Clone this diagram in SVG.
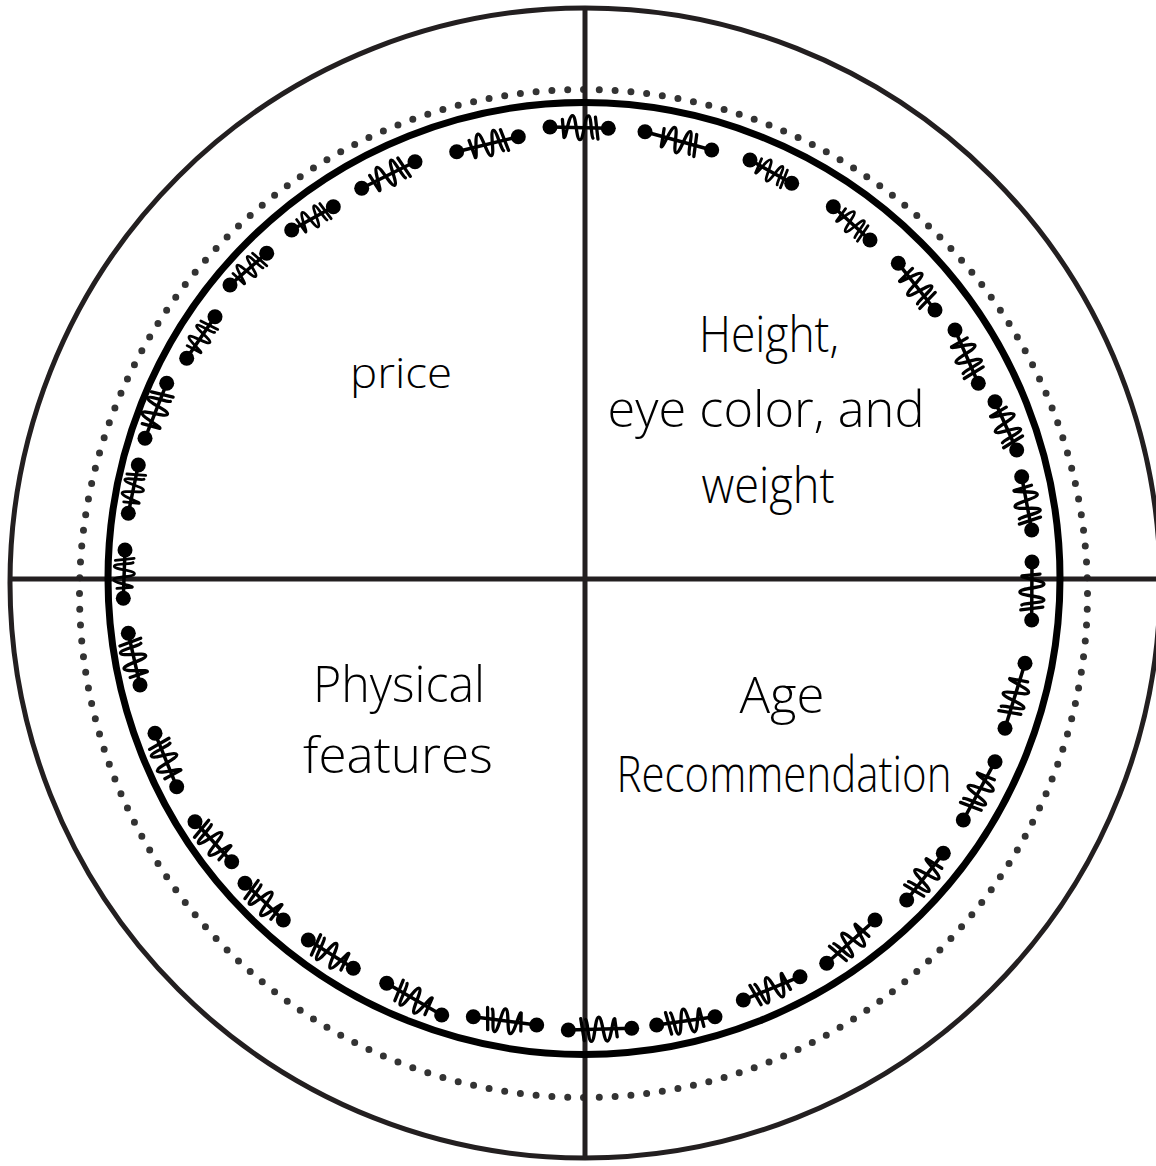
<svg xmlns="http://www.w3.org/2000/svg" xmlns:xlink="http://www.w3.org/1999/xlink" width="1156" height="1166" viewBox="0 0 1156 1166">
<style>
.ring{fill:none}
.st line{stroke:#000;stroke-width:3.5;stroke-linecap:round}
.st circle{fill:#000}
.lbl{font-family:"Open Sans","Noto Sans","Liberation Sans",sans-serif;font-weight:300;fill:#000;text-anchor:middle}
</style>
<defs>
<path id="sq" d="M-17,-8 L-15,10 C-13,12 -11,-12 -7,-12 C-3,-12 -3,12 1,12 C5,12 5,-12 9,-12 C12,-12 12,8 14,10 M16,-11 L19,11" fill="none" stroke="#000" stroke-width="3.3" stroke-linecap="round" stroke-linejoin="round"/>
</defs>
<rect width="1156" height="1166" fill="#fff"/>
<g id="outer-ring"><circle class="ring" cx="585" cy="583" r="575" stroke="#231f20" stroke-width="5"/></g>
<g id="dotted-ring"><circle class="ring" cx="583.5" cy="593.5" r="504" stroke="#333" stroke-width="7" stroke-linecap="round" pathLength="200" stroke-dasharray="0 1"/></g>
<g id="connectors">
<line x1="585" y1="8" x2="585" y2="1160" stroke="#231f20" stroke-width="5"/>
<line x1="10" y1="579" x2="1156" y2="579" stroke="#231f20" stroke-width="5"/>
</g>
<g id="inner-ring"><circle class="ring" cx="584" cy="578.5" r="476" stroke="#000" stroke-width="7"/></g>
<g id="stitches" class="st">
<g><line x1="550" y1="127" x2="608.3" y2="128.3"/><circle cx="550" cy="127" r="7.5"/><circle cx="608.3" cy="128.3" r="7.5"/><use href="#sq" transform="translate(579.2,127.7) rotate(1.3)"/></g>
<g><line x1="645" y1="131.7" x2="711.7" y2="150"/><circle cx="645" cy="131.7" r="7.5"/><circle cx="711.7" cy="150" r="7.5"/><use href="#sq" transform="translate(678.4,140.9) rotate(15.3)"/></g>
<g><line x1="750" y1="160" x2="791.7" y2="183.3"/><circle cx="750" cy="160" r="7.5"/><circle cx="791.7" cy="183.3" r="7.5"/><use href="#sq" transform="translate(770.9,171.7) rotate(29.2) scale(0.85)"/></g>
<g><line x1="833.3" y1="206.7" x2="870" y2="240"/><circle cx="833.3" cy="206.7" r="7.5"/><circle cx="870" cy="240" r="7.5"/><use href="#sq" transform="translate(851.7,223.4) rotate(42.2) scale(0.85)"/></g>
<g><line x1="898.3" y1="263.3" x2="935" y2="310"/><circle cx="898.3" cy="263.3" r="7.5"/><circle cx="935" cy="310" r="7.5"/><use href="#sq" transform="translate(916.7,286.7) rotate(51.8)"/></g>
<g><line x1="955" y1="330" x2="978.3" y2="383.3"/><circle cx="955" cy="330" r="7.5"/><circle cx="978.3" cy="383.3" r="7.5"/><use href="#sq" transform="translate(966.7,356.7) rotate(66.4)"/></g>
<g><line x1="995" y1="401.7" x2="1016.7" y2="450"/><circle cx="995" cy="401.7" r="7.5"/><circle cx="1016.7" cy="450" r="7.5"/><use href="#sq" transform="translate(1005.9,425.9) rotate(65.8)"/></g>
<g><line x1="1021.7" y1="476.7" x2="1031.7" y2="530"/><circle cx="1021.7" cy="476.7" r="7.5"/><circle cx="1031.7" cy="530" r="7.5"/><use href="#sq" transform="translate(1026.7,503.4) rotate(79.4)"/></g>
<g><line x1="1032" y1="562" x2="1031.7" y2="620"/><circle cx="1032" cy="562" r="7.5"/><circle cx="1031.7" cy="620" r="7.5"/><use href="#sq" transform="translate(1031.9,591) rotate(90.3)"/></g>
<g><line x1="1025" y1="663.3" x2="1005" y2="728.3"/><circle cx="1025" cy="663.3" r="7.5"/><circle cx="1005" cy="728.3" r="7.5"/><use href="#sq" transform="translate(1015,695.8) rotate(107.1)"/></g>
<g><line x1="995" y1="761.7" x2="963.3" y2="820"/><circle cx="995" cy="761.7" r="7.5"/><circle cx="963.3" cy="820" r="7.5"/><use href="#sq" transform="translate(979.2,790.9) rotate(118.5)"/></g>
<g><line x1="943.3" y1="853.3" x2="906.7" y2="900"/><circle cx="943.3" cy="853.3" r="7.5"/><circle cx="906.7" cy="900" r="7.5"/><use href="#sq" transform="translate(925,876.7) rotate(128.1)"/></g>
<g><line x1="875" y1="920" x2="826.7" y2="963.3"/><circle cx="875" cy="920" r="7.5"/><circle cx="826.7" cy="963.3" r="7.5"/><use href="#sq" transform="translate(850.9,941.7) rotate(138.1)"/></g>
<g><line x1="800" y1="976.7" x2="743.3" y2="1000"/><circle cx="800" cy="976.7" r="7.5"/><circle cx="743.3" cy="1000" r="7.5"/><use href="#sq" transform="translate(771.7,988.4) rotate(157.7)"/></g>
<g><line x1="715" y1="1016.7" x2="656.7" y2="1025"/><circle cx="715" cy="1016.7" r="7.5"/><circle cx="656.7" cy="1025" r="7.5"/><use href="#sq" transform="translate(685.9,1020.9) rotate(171.9)"/></g>
<g><line x1="631.7" y1="1028.3" x2="568.3" y2="1030"/><circle cx="631.7" cy="1028.3" r="7.5"/><circle cx="568.3" cy="1030" r="7.5"/><use href="#sq" transform="translate(600,1029.2) rotate(178.5)"/></g>
<g><line x1="536.7" y1="1025" x2="473.3" y2="1016.7"/><circle cx="536.7" cy="1025" r="7.5"/><circle cx="473.3" cy="1016.7" r="7.5"/><use href="#sq" transform="translate(505,1020.9) rotate(187.5)"/></g>
<g><line x1="441.7" y1="1015" x2="386.7" y2="983.3"/><circle cx="441.7" cy="1015" r="7.5"/><circle cx="386.7" cy="983.3" r="7.5"/><use href="#sq" transform="translate(414.2,999.2) rotate(210)"/></g>
<g><line x1="353.3" y1="968.3" x2="308.3" y2="940"/><circle cx="353.3" cy="968.3" r="7.5"/><circle cx="308.3" cy="940" r="7.5"/><use href="#sq" transform="translate(330.8,954.2) rotate(212.2)"/></g>
<g><line x1="283.3" y1="920" x2="245" y2="883.3"/><circle cx="283.3" cy="920" r="7.5"/><circle cx="245" cy="883.3" r="7.5"/><use href="#sq" transform="translate(264.2,901.7) rotate(223.8)"/></g>
<g><line x1="231.7" y1="861.7" x2="195" y2="821.7"/><circle cx="231.7" cy="861.7" r="7.5"/><circle cx="195" cy="821.7" r="7.5"/><use href="#sq" transform="translate(213.4,841.7) rotate(227.5)"/></g>
<g><line x1="176.7" y1="786.7" x2="155" y2="733.3"/><circle cx="176.7" cy="786.7" r="7.5"/><circle cx="155" cy="733.3" r="7.5"/><use href="#sq" transform="translate(165.9,760) rotate(247.9)"/></g>
<g><line x1="140" y1="685" x2="128.3" y2="633.3"/><circle cx="140" cy="685" r="7.5"/><circle cx="128.3" cy="633.3" r="7.5"/><use href="#sq" transform="translate(134.2,659.2) rotate(257.2)"/></g>
<g><line x1="123.3" y1="598.3" x2="125" y2="550"/><circle cx="123.3" cy="598.3" r="7.5"/><circle cx="125" cy="550" r="7.5"/><use href="#sq" transform="translate(124.2,574.2) rotate(272) scale(0.85)"/></g>
<g><line x1="128.3" y1="513.3" x2="138.3" y2="465"/><circle cx="128.3" cy="513.3" r="7.5"/><circle cx="138.3" cy="465" r="7.5"/><use href="#sq" transform="translate(133.3,489.2) rotate(281.7) scale(0.85)"/></g>
<g><line x1="145" y1="438.3" x2="166.7" y2="383.3"/><circle cx="145" cy="438.3" r="7.5"/><circle cx="166.7" cy="383.3" r="7.5"/><use href="#sq" transform="translate(155.9,410.8) rotate(291.5)"/></g>
<g><line x1="186.7" y1="358.3" x2="215" y2="316.7"/><circle cx="186.7" cy="358.3" r="7.5"/><circle cx="215" cy="316.7" r="7.5"/><use href="#sq" transform="translate(200.9,337.5) rotate(304.2) scale(0.85)"/></g>
<g><line x1="230" y1="285" x2="266.7" y2="253.3"/><circle cx="230" cy="285" r="7.5"/><circle cx="266.7" cy="253.3" r="7.5"/><use href="#sq" transform="translate(248.4,269.2) rotate(319.2) scale(0.85)"/></g>
<g><line x1="291.7" y1="230" x2="333.3" y2="206.7"/><circle cx="291.7" cy="230" r="7.5"/><circle cx="333.3" cy="206.7" r="7.5"/><use href="#sq" transform="translate(312.5,218.4) rotate(330.7) scale(0.85)"/></g>
<g><line x1="361.7" y1="188.3" x2="415" y2="161.7"/><circle cx="361.7" cy="188.3" r="7.5"/><circle cx="415" cy="161.7" r="7.5"/><use href="#sq" transform="translate(388.4,175) rotate(333.5)"/></g>
<g><line x1="456.7" y1="151.7" x2="518.3" y2="136.7"/><circle cx="456.7" cy="151.7" r="7.5"/><circle cx="518.3" cy="136.7" r="7.5"/><use href="#sq" transform="translate(487.5,144.2) rotate(346.3)"/></g>
</g>
<g id="label-price"><text class="lbl" x="401" y="388" font-size="42" textLength="102" lengthAdjust="spacingAndGlyphs">price</text></g>
<g id="label-height">
<text class="lbl" x="769" y="352" font-size="50" textLength="140" lengthAdjust="spacingAndGlyphs">Height,</text>
<text class="lbl" x="766" y="427" font-size="50" textLength="317" lengthAdjust="spacingAndGlyphs">eye color, and</text>
<text class="lbl" x="768" y="503" font-size="50" textLength="133" lengthAdjust="spacingAndGlyphs">weight</text>
</g>
<g id="label-physical">
<text class="lbl" x="399" y="702" font-size="50" textLength="172" lengthAdjust="spacingAndGlyphs">Physical</text>
<text class="lbl" x="398" y="773" font-size="50" textLength="190" lengthAdjust="spacingAndGlyphs">features</text>
</g>
<g id="label-age">
<text class="lbl" x="782" y="713" font-size="50" textLength="85" lengthAdjust="spacingAndGlyphs">Age</text>
<text class="lbl" x="784" y="792" font-size="50" textLength="335" lengthAdjust="spacingAndGlyphs">Recommendation</text>
</g>
</svg>
